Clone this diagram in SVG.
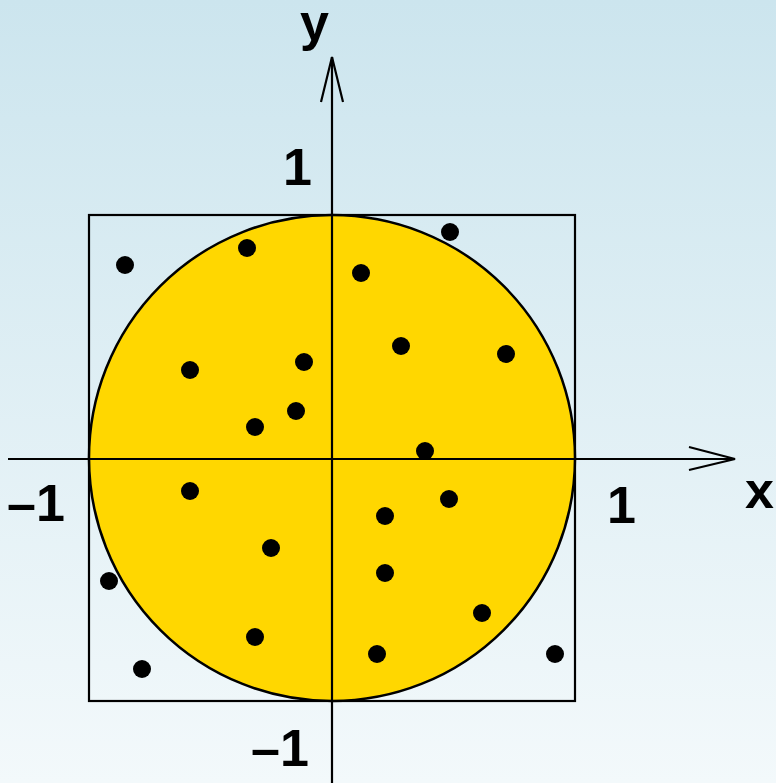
<svg xmlns="http://www.w3.org/2000/svg" width="776" height="783" viewBox="0 0 776 783">
<defs>
<linearGradient id="bg" x1="0" y1="0" x2="0" y2="1">
<stop offset="0" stop-color="#cce5ee"/>
<stop offset="1" stop-color="#f3f9fb"/>
</linearGradient>
<style>
.ln{stroke:#000;stroke-width:2.2;fill:none}
.dot{fill:#000}
.lbl{font-family:"Liberation Sans",Arial,sans-serif;font-weight:bold;font-size:52px;fill:#000}
</style>
</defs>
<rect width="776" height="783" fill="url(#bg)"/>
<g id="square"><rect x="89" y="215" width="486" height="486" class="ln"/></g>
<g id="circle"><circle cx="332" cy="458" r="243" fill="#ffd700" stroke="#000" stroke-width="2.5"/></g>
<g id="connectors">
<line x1="8" y1="459" x2="735" y2="459" class="ln"/>
<polyline points="689,447 735,459 689,470" class="ln"/>
<line x1="332" y1="783" x2="332" y2="57" class="ln"/>
<polyline points="321,102 332,57 343,102" class="ln"/>
</g>
<g id="points">
<circle class="dot" cx="125" cy="265" r="9"/>
<circle class="dot" cx="247" cy="248" r="9"/>
<circle class="dot" cx="450" cy="232" r="9"/>
<circle class="dot" cx="361" cy="273" r="9"/>
<circle class="dot" cx="401" cy="346" r="9"/>
<circle class="dot" cx="506" cy="354" r="9"/>
<circle class="dot" cx="190" cy="370" r="9"/>
<circle class="dot" cx="304" cy="362" r="9"/>
<circle class="dot" cx="296" cy="411" r="9"/>
<circle class="dot" cx="255" cy="427" r="9"/>
<circle class="dot" cx="425" cy="451" r="9"/>
<circle class="dot" cx="190" cy="491" r="9"/>
<circle class="dot" cx="449" cy="499" r="9"/>
<circle class="dot" cx="385" cy="516" r="9"/>
<circle class="dot" cx="271" cy="548" r="9"/>
<circle class="dot" cx="385" cy="573" r="9"/>
<circle class="dot" cx="109" cy="581" r="9"/>
<circle class="dot" cx="482" cy="613" r="9"/>
<circle class="dot" cx="255" cy="637" r="9"/>
<circle class="dot" cx="377" cy="654" r="9"/>
<circle class="dot" cx="555" cy="654" r="9"/>
<circle class="dot" cx="142" cy="669" r="9"/>
</g>
<g id="labels">
<text class="lbl" x="300" y="40">y</text>
<text class="lbl" x="745" y="508">x</text>
<text class="lbl" x="283" y="185">1</text>
<text class="lbl" x="607" y="523">1</text>
<text class="lbl" x="7" y="521">–1</text>
<text class="lbl" x="251" y="766">–1</text>
</g>
</svg>
